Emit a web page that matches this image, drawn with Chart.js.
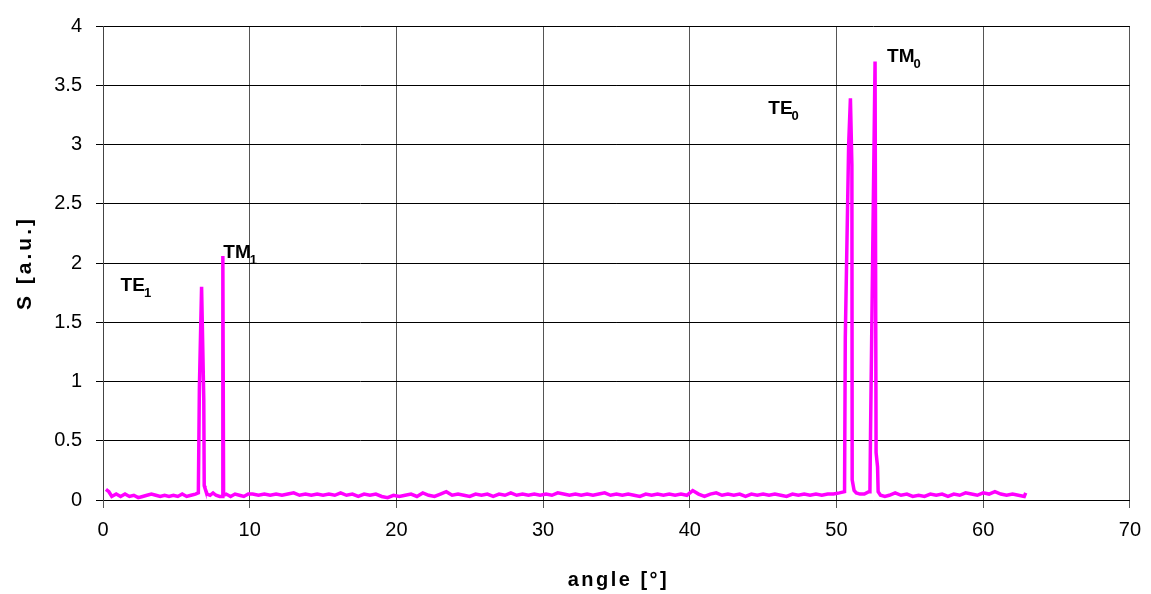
<!DOCTYPE html>
<html>
<head>
<meta charset="utf-8">
<title>S vs angle</title>
<script src="https://cdn.jsdelivr.net/npm/chart.js@4/dist/chart.umd.min.js"></script>
<style>
  html, body { margin: 0; padding: 0; background: #fff; }
  #wrap { width: 1151px; height: 594px; }
</style>
</head>
<body>
<div id="wrap"><canvas id="modeChart" width="1151" height="594"></canvas></div>
<script>
// measured spectrum: angle [deg] and signal S [a.u.]
const angle = [
  0.2, 0.4, 0.6, 0.9, 1.2, 1.5, 1.8, 2.1, 2.4, 2.7, 3.0, 3.3, 3.6, 3.9, 4.2, 4.5, 4.8, 5.1, 5.4, 5.7, 6.0, 6.3, 6.5,
  6.57, 6.72, 6.87, 6.9, 6.95, 7.1, 7.3, 7.5, 7.7, 7.95, 8.12, 8.17, 8.22, 8.4, 8.7, 9.0, 9.3, 9.6, 9.9,
  10.2, 10.6, 11.0, 11.4, 11.8, 12.2, 12.6, 13.0, 13.4, 13.8, 14.2, 14.6, 15.0, 15.4, 15.8, 16.2, 16.6, 17.0, 17.4, 17.8,
  18.2, 18.6, 19.0, 19.4, 19.8, 20.2, 20.6, 21.0, 21.4, 21.8, 22.2, 22.6, 23.0, 23.4, 23.8, 24.2, 24.6, 25.0, 25.4, 25.8,
  26.2, 26.6, 27.0, 27.4, 27.8, 28.2, 28.6, 29.0, 29.4, 29.8, 30.2, 30.6, 31.0, 31.4, 31.8, 32.2, 32.6, 33.0, 33.4, 33.8,
  34.2, 34.6, 35.0, 35.4, 35.8, 36.2, 36.6, 37.0, 37.4, 37.8, 38.2, 38.6, 39.0, 39.4, 39.8, 40.2, 40.6, 41.0, 41.4, 41.8,
  42.2, 42.6, 43.0, 43.4, 43.8, 44.2, 44.6, 45.0, 45.4, 45.8, 46.2, 46.6, 47.0, 47.4, 47.8, 48.2, 48.6, 49.0, 49.4, 49.8,
  50.2, 50.55, 50.6, 50.83, 50.95, 51.05, 51.07, 51.2, 51.35, 51.6, 51.9, 52.2,
  52.28, 52.32, 52.48, 52.63, 52.7, 52.8, 52.84, 53.0, 53.3, 53.6, 54.0, 54.4, 54.8, 55.2, 55.6, 56.0, 56.4, 56.8,
  57.2, 57.6, 58.0, 58.4, 58.8, 59.2, 59.6, 60.0, 60.4, 60.8, 61.2, 61.6, 62.0, 62.4, 62.8, 62.9
];
const signal = [
  0.09, 0.07, 0.03, 0.05, 0.03, 0.05, 0.03, 0.04, 0.02, 0.03, 0.04, 0.05, 0.04, 0.03, 0.04, 0.03, 0.04, 0.03, 0.05, 0.03, 0.04, 0.05, 0.06,
  0.95, 1.80, 0.85, 0.12, 0.10, 0.05, 0.04, 0.06, 0.04, 0.03, 0.03, 2.06, 0.04, 0.05, 0.03, 0.05, 0.04, 0.03, 0.05,
  0.05, 0.04, 0.05, 0.04, 0.05, 0.04, 0.05, 0.06, 0.04, 0.05, 0.04, 0.05, 0.04, 0.05, 0.04, 0.06, 0.04, 0.05, 0.03, 0.05,
  0.04, 0.05, 0.03, 0.02, 0.04, 0.03, 0.04, 0.05, 0.03, 0.06, 0.04, 0.03, 0.05, 0.07, 0.04, 0.05, 0.04, 0.03, 0.05, 0.04,
  0.05, 0.03, 0.05, 0.04, 0.06, 0.04, 0.05, 0.04, 0.05, 0.04, 0.05, 0.04, 0.06, 0.05, 0.04, 0.05, 0.04, 0.05, 0.04, 0.05,
  0.06, 0.04, 0.05, 0.04, 0.05, 0.04, 0.03, 0.05, 0.04, 0.05, 0.04, 0.05, 0.04, 0.05, 0.04, 0.08, 0.05, 0.03, 0.05, 0.06,
  0.04, 0.05, 0.04, 0.05, 0.03, 0.05, 0.04, 0.05, 0.04, 0.05, 0.04, 0.03, 0.05, 0.04, 0.05, 0.04, 0.05, 0.04, 0.05, 0.05,
  0.06, 0.07, 1.37, 3.00, 3.39, 2.83, 0.17, 0.08, 0.06, 0.05, 0.05, 0.07,
  0.07, 0.55, 2.20, 3.70, 0.40, 0.28, 0.07, 0.04, 0.03, 0.04, 0.06, 0.04, 0.05, 0.03, 0.04, 0.03, 0.05, 0.04,
  0.05, 0.03, 0.05, 0.04, 0.06, 0.05, 0.04, 0.06, 0.05, 0.07, 0.05, 0.04, 0.05, 0.04, 0.03, 0.06
];

const xTicks = [0, 10, 20, 30, 40, 50, 60, 70];
const yTicks = [0, 0.5, 1, 1.5, 2, 2.5, 3, 3.5, 4];

// peak labels: name, subscript, anchor (angle, S) of the text baseline start
const peakNames = ['TE', 'TM', 'TE', 'TM'];
const peakSubs = ['1', '1', '0', '0'];
const peakX = [1.2, 8.2, 45.35, 53.45];
const peakY = [1.76, 2.04, 3.26, 3.70];

const points = angle.map((a, i) => ({ x: a, y: signal[i] }));

Chart.defaults.font.family = '"Liberation Sans", Arial, sans-serif';
Chart.defaults.color = '#000';

const labelPlugin = {
  id: 'labels',
  afterDraw(chart) {
    const ctx = chart.ctx;
    const xs = chart.scales.x, ys = chart.scales.y;
    ctx.save();
    ctx.fillStyle = '#000';
    ctx.textBaseline = 'alphabetic';
    ctx.textAlign = 'left';
    for (let i = 0; i < peakNames.length; i++) {
      const px = xs.getPixelForValue(peakX[i]);
      const py = ys.getPixelForValue(peakY[i]);
      ctx.font = 'bold 19px "Liberation Sans", Arial';
      ctx.fillText(peakNames[i], px, py);
      const w = ctx.measureText(peakNames[i]).width;
      ctx.font = 'bold 13px "Liberation Sans", Arial';
      ctx.fillText(peakSubs[i], px + w - 1, py + 6);
    }
    // axis titles (spaced bold text like the original)
    ctx.letterSpacing = '2.5px';
    ctx.font = 'bold 20px "Liberation Sans", Arial';
    ctx.textAlign = 'center';
    ctx.textBaseline = 'middle';
    ctx.fillText('angle [°]', (xs.left + xs.right) / 2 + 2, 580);
    ctx.translate(25, (ys.top + ys.bottom) / 2);
    ctx.rotate(-Math.PI / 2);
    ctx.letterSpacing = '3px';
    ctx.font = 'bold 21px "Liberation Sans", Arial';
    ctx.fillText('S [a.u.]', 0, 0);
    ctx.restore();
  }
};

new Chart(document.getElementById('modeChart'), {
  type: 'line',
  data: {
    datasets: [{
      label: 'S',
      data: points,
      borderColor: '#ff00ff',
      borderWidth: 3.5,
      pointRadius: 0,
      tension: 0,
      fill: false
    }]
  },
  options: {
    responsive: false,
    animation: false,
    layout: { padding: { top: 23, right: 19, left: 0, bottom: 0 } },
    plugins: { legend: { display: false }, tooltip: { enabled: false } },
    scales: {
      x: {
        type: 'linear',
        min: 0, max: 70,
        afterBuildTicks: s => { s.ticks = xTicks.map(v => ({ value: v })); },
        afterFit: s => { s.height = 94; },
        ticks: { font: { size: 20 }, padding: 10, maxRotation: 0, callback: v => String(v) },
        grid: { color: '#555', lineWidth: 1, tickLength: 8 },
        border: { color: '#000', width: 1 }
      },
      y: {
        min: 0, max: 4,
        afterBuildTicks: s => { s.ticks = yTicks.map(v => ({ value: v })); },
        afterFit: s => { s.width = 103; },
        ticks: { font: { size: 20 }, padding: 14, callback: v => String(v) },
        grid: { color: '#000', lineWidth: 1, tickLength: 7 },
        border: { color: '#444', width: 1 }
      }
    }
  },
  plugins: [labelPlugin]
});
</script>
</body>
</html>
